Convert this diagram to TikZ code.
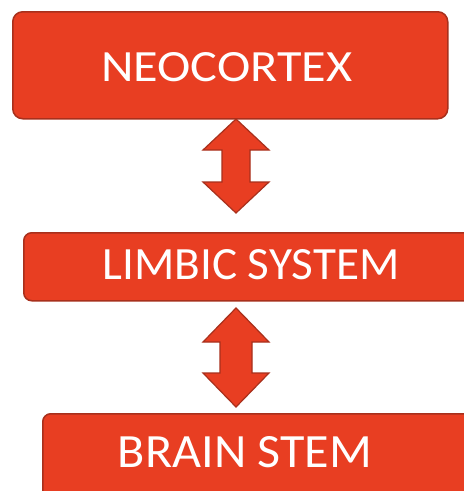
\documentclass[tikz,border=0pt]{standalone}
\usepackage{fontspec}
\setmainfont{Carlito}
\usepackage{graphicx}
\definecolor{boxfill}{RGB}{232,62,34}
\definecolor{boxline}{RGB}{168,48,28}
\begin{document}
\begin{tikzpicture}[x=1pt,y=-1pt,
  box/.style={draw=boxline,fill=boxfill,line width=1.5pt,rounded corners=10pt,
    rectangle,inner sep=0pt,anchor=north west},
  lbl/.style={text=white,inner sep=0pt,anchor=center},
  blockarrow/.style={draw=boxline,fill=boxfill,line width=1.2pt,line join=miter}]
\useasboundingbox (0,0) rectangle (464,491);
\fill[white] (0,0) rectangle (464,491);
\node[box,minimum width=435pt,minimum height=107pt] (neo) at (12,11) {};
\node[box,minimum width=450pt,minimum height=68pt,rounded corners=8pt] (lim) at (23,232) {};
\node[box,minimum width=450pt,minimum height=95pt,rounded corners=8pt] (brs) at (42,413) {};
\node[lbl] (neoT) at (227,67.5) {\resizebox{251pt}{29pt}{NEOCORTEX}};
\node[lbl] (limT) at (251,265) {\resizebox{297pt}{30pt}{LIMBIC SYSTEM}};
\node[lbl] (brsT) at (245,452.5) {\resizebox{254pt}{31pt}{BRAIN STEM}};
% double block arrow between NEOCORTEX and LIMBIC SYSTEM
\coordinate (a1) at (236,166);
\draw[blockarrow] (a1) ++(0,-47) -- ++(33,31) -- ++(-19,0) -- ++(0,32)
  -- ++(19,0) -- ++(-33,31) -- ++(-33,-31) -- ++(19,0) -- ++(0,-32)
  -- ++(-19,0) -- cycle;
% double block arrow between LIMBIC SYSTEM and BRAIN STEM
\coordinate (a2) at (236,357.5);
\draw[blockarrow] (a2) ++(0,-49.5) -- ++(33,34) -- ++(-17,0) -- ++(0,31)
  -- ++(17,0) -- ++(-33,34) -- ++(-33,-34) -- ++(17,0) -- ++(0,-31)
  -- ++(-17,0) -- cycle;
\end{tikzpicture}
\end{document}
